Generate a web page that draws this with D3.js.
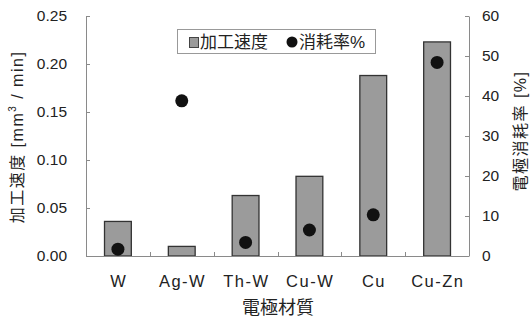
<!DOCTYPE html>
<html><head><meta charset="utf-8">
<script src="https://cdn.jsdelivr.net/npm/d3@7"></script>
<style>
html,body{margin:0;padding:0;background:#fff;}
text{font-family:"Liberation Sans","Noto Sans CJK JP",sans-serif;fill:#222;}
</style></head>
<body>
<svg id="c" width="530" height="320"></svg>
<script>
const categories = ["W","Ag-W","Th-W","Cu-W","Cu","Cu-Zn"];
const rateValues = [0.036,0.010,0.063,0.083,0.188,0.223];      // 加工速度 mm3/min
const wearValues = [1.7,38.8,3.4,6.5,10.3,48.4];               // 消耗率 %
const leftTicks = [0,0.05,0.10,0.15,0.20,0.25];
const rightTicks = [0,10,20,30,40,50,60];

const svg = d3.select("#c");
const L = 86, R = 469, T = 16, B = 256;
const axisColor = "#8a8a8a";

const x = d3.scaleBand().domain(categories).range([L, R]).paddingInner(0).paddingOuter(0);
const yL = d3.scaleLinear().domain([0,0.25]).range([B, T]);
const yR = d3.scaleLinear().domain([0,60]).range([B, T]);

// bars
const bw = x.bandwidth()*0.42;
svg.append("g").selectAll("rect").data(categories).join("rect")
  .attr("x", (d)=> x(d)+x.bandwidth()/2-bw/2)
  .attr("y", (d,i)=> yL(rateValues[i]))
  .attr("width", bw)
  .attr("height", (d,i)=> B - yL(rateValues[i]))
  .attr("fill","#9b9b9b").attr("stroke","#333").attr("stroke-width",1.3);

// dots
svg.append("g").selectAll("circle").data(categories).join("circle")
  .attr("cx", d=> x(d)+x.bandwidth()/2)
  .attr("cy", (d,i)=> yR(wearValues[i]))
  .attr("r", 6.5).attr("fill","#111");

// left axis
const gL = svg.append("g").attr("transform",`translate(${L},0)`)
  .call(d3.axisLeft(yL).tickValues(leftTicks).tickFormat(d3.format(".2f")).tickSizeInner(-4).tickSizeOuter(0).tickPadding(19));
gL.selectAll("path,line").attr("stroke",axisColor);
gL.selectAll("text").attr("font-size",15.5).attr("fill","#222");

// right axis
const gR = svg.append("g").attr("transform",`translate(${R},0)`)
  .call(d3.axisRight(yR).tickValues(rightTicks).tickFormat(d3.format("d")).tickSizeInner(-4).tickSizeOuter(0).tickPadding(13));
gR.selectAll("path,line").attr("stroke",axisColor);
gR.selectAll("text").attr("font-size",15.5).attr("fill","#222");

// bottom axis line + inner boundary ticks
svg.append("line").attr("x1",L).attr("x2",R).attr("y1",B+0.5).attr("y2",B+0.5).attr("stroke",axisColor);
svg.append("g").selectAll("line").data(categories.slice(1)).join("line")
  .attr("x1",d=>Math.round(x(d))+0.5).attr("x2",d=>Math.round(x(d))+0.5)
  .attr("y1",B).attr("y2",B-4).attr("stroke",axisColor);

// x labels
svg.append("g").selectAll("text").data(categories).join("text")
  .attr("x", d=> x(d)+x.bandwidth()/2+0.75).attr("y", 287)
  .attr("text-anchor","middle").attr("font-size",16.5).attr("letter-spacing",1.5).text(d=>d);

// axis titles
svg.append("text").attr("x",278).attr("y",314).attr("text-anchor","middle")
  .attr("font-size",18).text("電極材質");

const lt = svg.append("text").attr("transform","translate(23,137) rotate(-90)")
  .attr("text-anchor","middle").attr("font-size",16).attr("letter-spacing",1.5);
lt.append("tspan").text("加工速度  [mm");
lt.append("tspan").attr("font-size",10).attr("dy",-7).text("3");
lt.append("tspan").attr("dy",7).text(" / min]");

svg.append("text").attr("transform","translate(526,131) rotate(-90)")
  .attr("text-anchor","middle").attr("font-size",16).attr("letter-spacing",1.5).text("電極消耗率 [%]");

// legend
svg.append("rect").attr("x",177.5).attr("y",29.5).attr("width",198).attr("height",24)
  .attr("fill","#fff").attr("stroke","#999").attr("stroke-width",1);
svg.append("rect").attr("x",189.5).attr("y",37.5).attr("width",9).attr("height",10)
  .attr("fill","#9b9b9b").attr("stroke","#444").attr("stroke-width",1);
svg.append("text").attr("x",200).attr("y",48).attr("font-size",17).text("加工速度");
svg.append("circle").attr("cx",292).attr("cy",42).attr("r",5.5).attr("fill","#111");
svg.append("text").attr("x",299).attr("y",48).attr("font-size",17).text("消耗率%");
</script>
</body></html>
